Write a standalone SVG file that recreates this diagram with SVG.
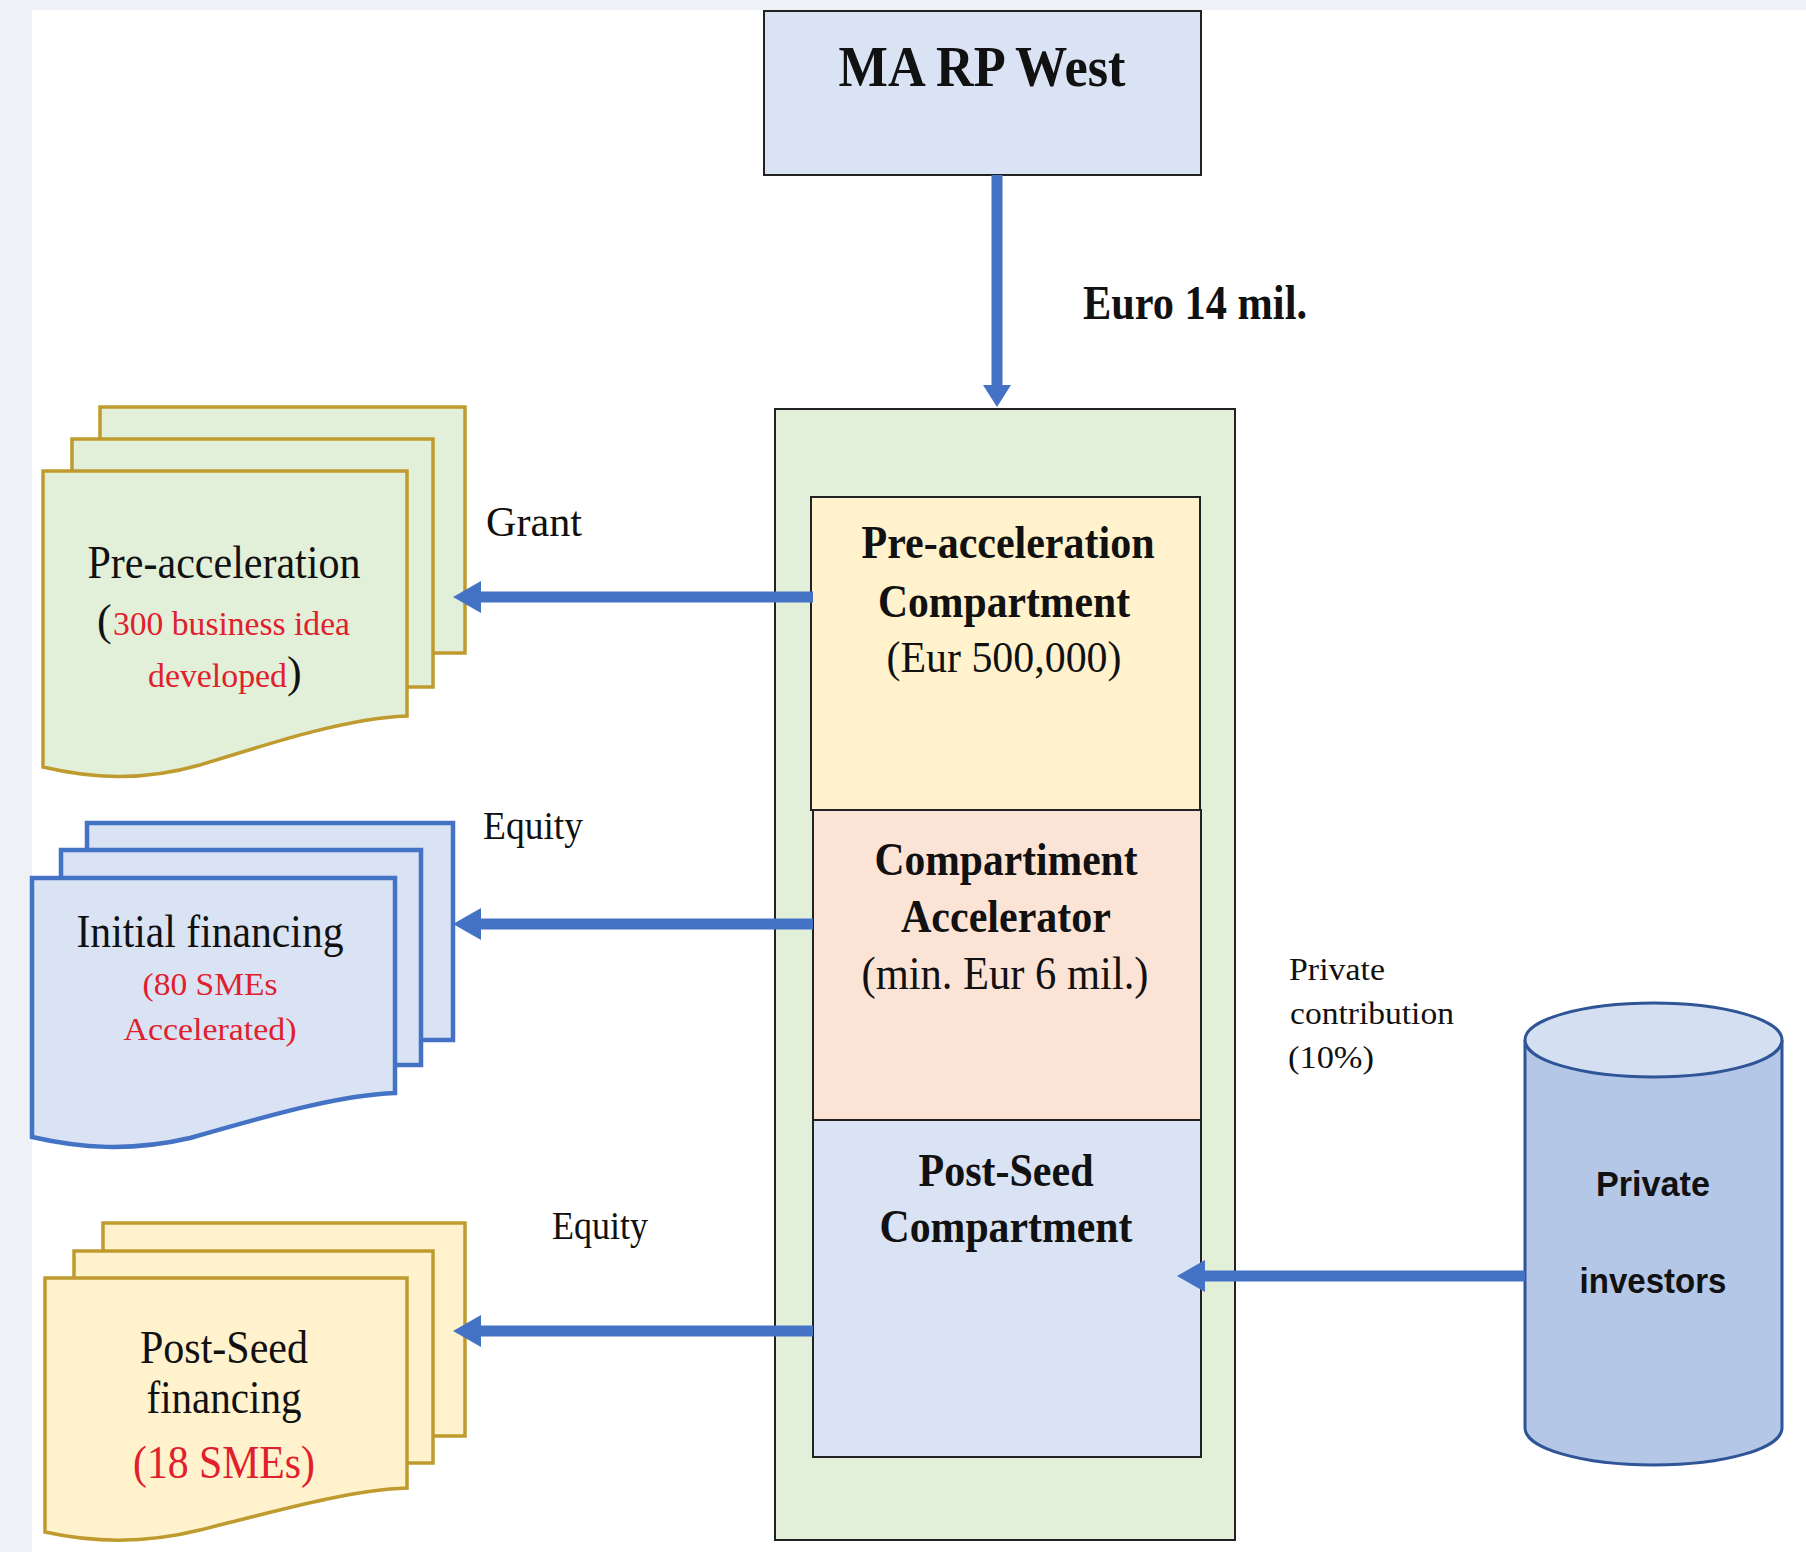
<svg xmlns="http://www.w3.org/2000/svg" width="1806" height="1552" viewBox="0 0 1806 1552">
<style>
.serif{font-family:"Liberation Serif","Times New Roman",serif;}
.sans{font-family:"Liberation Sans",Arial,sans-serif;}
.b{font-weight:bold;}
.red{fill:#e0202c;}
.blk{fill:#111;}
.conn{stroke:#4472c4;stroke-width:11;fill:none;}
.head{fill:#4472c4;}
.gold{stroke:#bf9a2e;stroke-width:3.5;}
.blue{stroke:#4472c4;stroke-width:4.5;}
.box{stroke:#222;stroke-width:2;}
</style>
<rect x="0" y="0" width="1806" height="1552" fill="#eef1f6"/>
<rect x="32" y="10" width="1774" height="1542" fill="#ffffff"/>

<g id="ma-rp-west">
<rect class="box" x="764" y="11" width="437" height="164" fill="#dae3f3"/>
<text class="serif b blk" x="982" y="86" font-size="56" text-anchor="middle" textLength="287" lengthAdjust="spacingAndGlyphs">MA RP West</text>
</g>

<g id="fund-container">
<rect class="box" x="775" y="409" width="460" height="1131" fill="#e2efd9" stroke="#333"/>
</g>

<g id="pre-acceleration-compartment">
<rect class="box" x="811" y="497" width="389" height="313" fill="#fff2cc"/>
<text class="serif b blk" x="1008" y="558" font-size="46" text-anchor="middle" textLength="293" lengthAdjust="spacingAndGlyphs">Pre-acceleration</text>
<text class="serif b blk" x="1004" y="617" font-size="46" text-anchor="middle" textLength="252" lengthAdjust="spacingAndGlyphs">Compartment</text>
<text class="serif blk" x="1004" y="672" font-size="44" text-anchor="middle" textLength="235" lengthAdjust="spacingAndGlyphs">(Eur 500,000)</text>
</g>

<g id="accelerator-compartment">
<rect class="box" x="813" y="810" width="388" height="310" fill="#fbe4d5"/>
<text class="serif b blk" x="1006" y="875" font-size="46" text-anchor="middle" textLength="263" lengthAdjust="spacingAndGlyphs">Compartiment</text>
<text class="serif b blk" x="1006" y="932" font-size="46" text-anchor="middle" textLength="210" lengthAdjust="spacingAndGlyphs">Accelerator</text>
<text class="serif blk" x="1005" y="989" font-size="46" text-anchor="middle" textLength="287" lengthAdjust="spacingAndGlyphs">(min. Eur 6 mil.)</text>
</g>

<g id="post-seed-compartment">
<rect class="box" x="813" y="1120" width="388" height="337" fill="#dae3f3"/>
<text class="serif b blk" x="1006" y="1186" font-size="46" text-anchor="middle" textLength="175" lengthAdjust="spacingAndGlyphs">Post-Seed</text>
<text class="serif b blk" x="1006" y="1242" font-size="46" text-anchor="middle" textLength="253" lengthAdjust="spacingAndGlyphs">Compartment</text>
</g>

<g id="pre-acceleration-docs">
<rect class="gold" x="100" y="407" width="365" height="246" fill="#e2efd9"/>
<rect class="gold" x="72" y="439" width="361" height="248" fill="#e2efd9"/>
<path class="gold" d="M43,471 H407 V716 C350,718 280,740 200,765 C140,782 90,778 43,767 Z" fill="#e2efd9"/>
<text class="serif blk" x="224" y="578" font-size="46" text-anchor="middle" textLength="273" lengthAdjust="spacingAndGlyphs">Pre-acceleration</text>
<text class="serif blk" x="97" y="635" font-size="44">(</text>
<text class="serif red" x="113" y="635" font-size="33" textLength="237" lengthAdjust="spacingAndGlyphs">300 business idea</text>
<text class="serif red" x="148" y="687" font-size="33" textLength="139" lengthAdjust="spacingAndGlyphs">developed</text>
<text class="serif blk" x="287" y="687" font-size="44">)</text>
</g>

<g id="initial-financing-docs">
<rect class="blue" x="87" y="823" width="366" height="217" fill="#dae3f3"/>
<rect class="blue" x="61" y="850" width="360" height="215" fill="#dae3f3"/>
<path class="blue" d="M32,878 H395 V1093 C340,1095 270,1115 190,1138 C130,1152 80,1148 32,1137 Z" fill="#dae3f3"/>
<text class="serif blk" x="210" y="947" font-size="47" text-anchor="middle" textLength="267" lengthAdjust="spacingAndGlyphs">Initial financing</text>
<text class="serif red" x="210" y="995" font-size="32" text-anchor="middle" textLength="135" lengthAdjust="spacingAndGlyphs">(80 SMEs</text>
<text class="serif red" x="210" y="1040" font-size="32" text-anchor="middle" textLength="173" lengthAdjust="spacingAndGlyphs">Accelerated)</text>
</g>

<g id="post-seed-docs">
<rect class="gold" x="103" y="1223" width="362" height="213" fill="#fff2cc"/>
<rect class="gold" x="74" y="1251" width="359" height="212" fill="#fff2cc"/>
<path class="gold" d="M45,1278 H407 V1488 C350,1490 280,1510 200,1530 C140,1545 90,1542 45,1532 Z" fill="#fff2cc"/>
<text class="serif blk" x="224" y="1363" font-size="46" text-anchor="middle" textLength="168" lengthAdjust="spacingAndGlyphs">Post-Seed</text>
<text class="serif blk" x="224" y="1413" font-size="46" text-anchor="middle" textLength="155" lengthAdjust="spacingAndGlyphs">financing</text>
<text class="serif red" x="224" y="1478" font-size="46" text-anchor="middle" textLength="182" lengthAdjust="spacingAndGlyphs">(18 SMEs)</text>
</g>

<g id="private-investors">
<path d="M1525,1040 V1428 A128.5,37 0 0 0 1782,1428 V1040" fill="#b4c7e7" stroke="#2f5597" stroke-width="3"/>
<ellipse cx="1653.5" cy="1040" rx="128.5" ry="37" fill="#d4dff2" stroke="#2f5597" stroke-width="3"/>
<text class="sans b blk" x="1653" y="1196" font-size="35" text-anchor="middle" textLength="114" lengthAdjust="spacingAndGlyphs">Private</text>
<text class="sans b blk" x="1653" y="1293" font-size="35" text-anchor="middle" textLength="147" lengthAdjust="spacingAndGlyphs">investors</text>
</g>

<g id="connectors">
<line class="conn" x1="997" y1="175" x2="997" y2="390" stroke-width="12"/>
<polygon class="head" points="997,407 983,385 1011,385"/>
<line class="conn" x1="813" y1="597" x2="476" y2="597"/>
<polygon class="head" points="453,597 481,581 481,613"/>
<line class="conn" x1="813" y1="924" x2="476" y2="924"/>
<polygon class="head" points="453,924 481,908 481,940"/>
<line class="conn" x1="813" y1="1331" x2="476" y2="1331"/>
<polygon class="head" points="453,1331 481,1315 481,1347"/>
<line class="conn" x1="1525" y1="1276" x2="1200" y2="1276"/>
<polygon class="head" points="1177,1276 1205,1260 1205,1292"/>
<text class="serif b blk" x="1083" y="319" font-size="48" textLength="224" lengthAdjust="spacingAndGlyphs">Euro 14 mil.</text>
<text class="serif blk" x="486" y="536" font-size="42" textLength="96" lengthAdjust="spacingAndGlyphs">Grant</text>
<text class="serif blk" x="483" y="839" font-size="39" textLength="100" lengthAdjust="spacingAndGlyphs">Equity</text>
<text class="serif blk" x="552" y="1239" font-size="39" textLength="96" lengthAdjust="spacingAndGlyphs">Equity</text>
<text class="serif blk" x="1289" y="980" font-size="31" textLength="96" lengthAdjust="spacingAndGlyphs">Private</text>
<text class="serif blk" x="1290" y="1024" font-size="31" textLength="164" lengthAdjust="spacingAndGlyphs">contribution</text>
<text class="serif blk" x="1288" y="1068" font-size="31" textLength="86" lengthAdjust="spacingAndGlyphs">(10%)</text>
</g>
</svg>
